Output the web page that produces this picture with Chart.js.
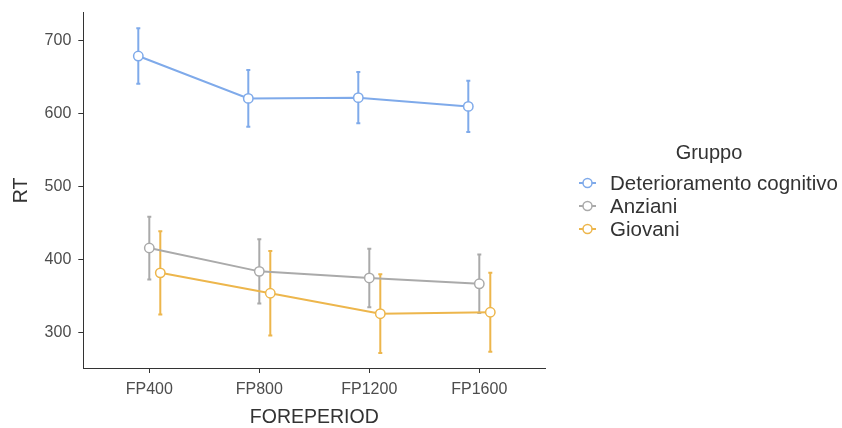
<!DOCTYPE html>
<html><head><meta charset="utf-8">
<script src="https://cdn.jsdelivr.net/npm/chart.js@4/dist/chart.umd.min.js"></script>
<style>html,body{margin:0;padding:0;background:#fff}#wrap{width:842px;height:428px;position:relative}</style>
</head><body><div id="wrap"><canvas id="c" width="842" height="428"></canvas></div>
<script>
const categories = ["FP400", "FP800", "FP1200", "FP1600"];
const groups = ["Deterioramento cognitivo", "Anziani", "Giovani"];
const meanDet = [679, 621, 622, 610];
const errDet = [38, 39, 35, 35];
const meanAnz = [416, 384, 375, 367];
const errAnz = [43, 44, 40, 40];
const meanGio = [382, 354, 326, 328];
const errGio = [57, 58, 54, 54];
const yTicks = [300, 400, 500, 600, 700];
const legendTitle = "Gruppo";
const xTitle = "FOREPERIOD";
const yTitle = "RT";

const colors = ["#7FAAEA", "#AAAAAA", "#EDB64C"];
const dodge = [-0.1, 0, 0.1];
const FONT = "'Liberation Sans', Arial, sans-serif";
const means = [meanDet, meanAnz, meanGio];
const errs = [errDet, errAnz, errGio];

const datasets = means.map((m, g) => ({
  label: groups[g],
  data: m.map((v, i) => ({ x: i + 1 + dodge[g], y: v })),
  errors: errs[g],
  showLine: true,
  borderColor: colors[g],
  borderWidth: 2,
  pointRadius: 4.7,
  pointHoverRadius: 4.7,
  pointBorderWidth: 1.5,
  pointBackgroundColor: "#ffffff",
  pointBorderColor: colors[g],
  tension: 0
}));

const errorBarPlugin = {
  id: "errbars",
  beforeDatasetsDraw(chart) {
    const ctx = chart.ctx, xs = chart.scales.x, ys = chart.scales.y;
    ctx.save();
    chart.data.datasets.forEach((ds, g) => {
      ctx.strokeStyle = ds.borderColor;
      ctx.lineWidth = 2;
      ds.data.forEach((p, i) => {
        const e = ds.errors[i];
        const px = xs.getPixelForValue(p.x);
        const top = ys.getPixelForValue(p.y + e);
        const bot = ys.getPixelForValue(p.y - e);
        ctx.beginPath();
        ctx.moveTo(px, top); ctx.lineTo(px, bot);
        ctx.moveTo(px - 2, top); ctx.lineTo(px + 2, top);
        ctx.moveTo(px - 2, bot); ctx.lineTo(px + 2, bot);
        ctx.stroke();
      });
    });
    ctx.restore();
  }
};

const textPlugin = {
  id: "texts",
  afterDraw(chart) {
    const ctx = chart.ctx, ca = chart.chartArea;
    ctx.save();
    ctx.fillStyle = "#333333";
    ctx.font = "19.5px " + FONT;
    ctx.textAlign = "center";
    ctx.textBaseline = "middle";
    ctx.fillText(xTitle, (ca.left + ca.right) / 2, 418);
    ctx.save();
    ctx.translate(22, (ca.top + ca.bottom) / 2);
    ctx.rotate(-Math.PI / 2);
    ctx.fillText(yTitle, 0, 0);
    ctx.restore();
    // legend
    ctx.font = "20px " + FONT;
    ctx.fillText(legendTitle, 709, 153);
    const rowsY = [183, 206, 229];
    chart.data.datasets.forEach((ds, g) => {
      const y = rowsY[g];
      ctx.strokeStyle = ds.borderColor;
      ctx.lineWidth = 2;
      ctx.beginPath(); ctx.moveTo(579, y); ctx.lineTo(596, y); ctx.stroke();
      ctx.beginPath(); ctx.arc(587.5, y, 4.5, 0, Math.PI * 2);
      ctx.fillStyle = "#fff"; ctx.fill();
      ctx.lineWidth = 1.5; ctx.stroke();
      ctx.fillStyle = "#333333";
      ctx.font = "20.5px " + FONT;
      ctx.textAlign = "left";
      ctx.fillText(ds.label, 610, y + 1);
    });
    ctx.restore();
  }
};

const axisCommon = {
  grid: { display: true, drawOnChartArea: false, drawTicks: true, tickLength: 5, tickColor: "#333", tickWidth: 1 },
  border: { display: true, color: "#333", width: 1 }
};

new Chart(document.getElementById("c"), {
  type: "scatter",
  data: { datasets },
  options: {
    responsive: false,
    animation: false,
    events: [],
    layout: { padding: { top: 12.7, right: 842 - 545.3, left: 0, bottom: 0 } },
    plugins: { legend: { display: false }, tooltip: { enabled: false } },
    scales: {
      x: {
        type: "linear", min: 0.4, max: 4.6,
        afterBuildTicks: s => { s.ticks = categories.map((c, i) => ({ value: i + 1 })); },
        afterFit: s => { s.height = 60; s.paddingLeft = 0; s.paddingRight = 0; },
        ticks: {
          callback: v => categories[Math.round(v) - 1],
          autoSkip: false, maxRotation: 0, padding: 7,
          color: "#4D4D4D", font: { family: FONT, size: 16 }
        },
        ...axisCommon
      },
      y: {
        type: "linear", min: 251.6, max: 738.4,
        afterBuildTicks: s => { s.ticks = yTicks.map(v => ({ value: v })); },
        afterFit: s => { s.width = 83.3; s.paddingTop = 0; s.paddingBottom = 0; },
        ticks: {
          callback: v => String(v),
          padding: 7,
          color: "#4D4D4D", font: { family: FONT, size: 16 }
        },
        ...axisCommon
      }
    }
  },
  plugins: [errorBarPlugin, textPlugin]
});
</script></body></html>
